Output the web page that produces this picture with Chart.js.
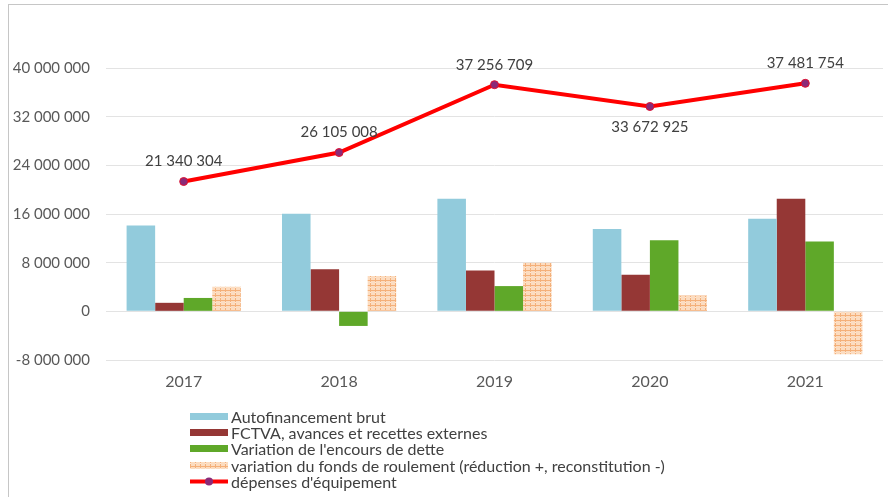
<!DOCTYPE html>
<html>
<head>
<meta charset="utf-8">
<script src="https://cdn.jsdelivr.net/npm/chart.js@4.4.1/dist/chart.umd.min.js"></script>
<style>
  body { margin: 0; background: #fff; }
  #wrap { position: relative; width: 888px; height: 497px; overflow: hidden; }
  #frame { position: absolute; left: 8px; top: 4px; width: 900px; height: 520px;
           border-left: 1px solid #c6c6c6; border-top: 1px solid #c6c6c6; }
  #chart { position: absolute; left: 0; top: 0; }
  #legend { position: absolute; left: 190px; top: 408px; font: 16px Lato, sans-serif; color: #404040; }
  .row { height: 16.3px; display: flex; align-items: center; white-space: nowrap; }
  .row canvas { margin-right: 3px; }
</style>
</head>
<body>
<div id="wrap">
  <div id="frame"></div>
  <canvas id="chart" width="888" height="497"></canvas>
  <div id="legend"></div>
</div>
<script>
document.addEventListener("DOMContentLoaded", () => {
  // Data
  const years = ["2017", "2018", "2019", "2020", "2021"];
  const autofinancement = [14100000, 16050000, 18500000, 13550000, 15200000];
  const fctva = [1400000, 6900000, 6700000, 6000000, 18500000];
  const encoursDette = [2200000, -2400000, 4150000, 11700000, 11500000];
  const fondsRoulement = [4050000, 5800000, 8000000, 2600000, -7050000];
  const depenses = [21340304, 26105008, 37256709, 33672925, 37481754];
  const yTicks = [-8000000, 0, 8000000, 16000000, 24000000, 32000000, 40000000];

  const seriesNames = [
    "Autofinancement brut",
    "FCTVA, avances et recettes externes",
    "Variation de l'encours de dette",
    "variation du fonds de roulement (réduction +, reconstitution -)",
    "dépenses d'équipement",
  ];

  const fmt = (n) => String(n).replace(/\B(?=(\d{3})+(?!\d))/g, " ");

  // Peach dotted pattern for the working capital bars
  function makePattern(ctx) {
    const tile = document.createElement("canvas");
    tile.width = 5;
    tile.height = 5;
    const t = tile.getContext("2d");
    t.fillStyle = "#fcdcc0";
    t.fillRect(0, 0, 5, 5);
    t.fillStyle = "#f4b07a";
    t.fillRect(0, 0, 1, 5);
    t.fillRect(0, 0, 5, 1);
    t.fillStyle = "#fbe9d8";
    t.fillRect(0, 2, 1, 1);
    return ctx.createPattern(tile, "repeat");
  }

  const ctx = document.getElementById("chart").getContext("2d");
  const pattern = makePattern(ctx);

  // Labels on the line points
  const lineLabels = {
    id: "lineLabels",
    afterDatasetsDraw(chart) {
      const meta = chart.getDatasetMeta(4);
      const c = chart.ctx;
      c.save();
      c.font = "15px Lato, sans-serif";
      c.fillStyle = "#404040";
      c.textAlign = "center";
      c.textBaseline = "middle";
      meta.data.forEach((pt, i) => {
        const below = i === 3;
        c.fillText(fmt(depenses[i]), pt.x, pt.y + (below ? 21 : -20));
      });
      c.restore();
    },
  };

  const colors = ["#92cbdc", "#953735", "#5fa829", pattern, "#ff0000"];

  new Chart(ctx, {
    type: "bar",
    data: {
      labels: years,
      datasets: [
        { label: seriesNames[0], data: autofinancement, backgroundColor: colors[0], order: 1 },
        { label: seriesNames[1], data: fctva, backgroundColor: colors[1], order: 1 },
        { label: seriesNames[2], data: encoursDette, backgroundColor: colors[2], order: 1 },
        { label: seriesNames[3], data: fondsRoulement, backgroundColor: colors[3], order: 1 },
        {
          type: "line",
          label: seriesNames[4],
          data: depenses,
          borderColor: "#ff0000",
          borderWidth: 4,
          pointRadius: 4,
          pointBackgroundColor: "#8a2a78",
          pointBorderColor: "#e01030",
          pointBorderWidth: 1,
          tension: 0,
          order: 0,
        },
      ],
    },
    options: {
      responsive: false,
      animation: false,
      layout: { padding: { top: 68, right: 4, bottom: 97, left: 0 } },
      datasets: { bar: { barPercentage: 1, categoryPercentage: 0.735 } },
      plugins: {
        legend: { display: false },
        tooltip: { enabled: false },
      },
      scales: {
        x: {
          grid: { display: false },
          border: { display: false },
          ticks: { color: "#595959", font: { family: "Lato", size: 16 }, padding: 4 },
          afterFit: (scale) => { scale.height = 40; },
        },
        y: {
          min: yTicks[0],
          max: yTicks[yTicks.length - 1],
          afterBuildTicks: (scale) => { scale.ticks = yTicks.map((v) => ({ value: v })); },
          grid: { color: "#e3e3e3", lineWidth: 1, drawTicks: false },
          border: { display: false },
          ticks: {
            color: "#595959",
            font: { family: "Lato", size: 15 },
            padding: 16,
            callback: (v) => fmt(v),
          },
          afterFit: (scale) => { scale.width = 106; },
        },
      },
    },
    plugins: [lineLabels],
  });

  // HTML legend, one row per series
  const legend = document.getElementById("legend");
  seriesNames.forEach((name, i) => {
    const row = document.createElement("div");
    row.className = "row";
    const sw = document.createElement("canvas");
    sw.width = 38;
    sw.height = 9;
    const s = sw.getContext("2d");
    if (i === 4) {
      s.strokeStyle = "#ff0000";
      s.lineWidth = 4;
      s.beginPath();
      s.moveTo(0, 4.5);
      s.lineTo(38, 4.5);
      s.stroke();
      s.fillStyle = "#8a2a78";
      s.beginPath();
      s.arc(19, 4.5, 4, 0, Math.PI * 2);
      s.fill();
    } else {
      s.fillStyle = i === 3 ? makePattern(s) : colors[i];
      s.fillRect(0, 1, 38, 7);
    }
    row.appendChild(sw);
    const txt = document.createElement("span");
    txt.textContent = name;
    row.appendChild(txt);
    legend.appendChild(row);
  });
});
</script>
</body>
</html>
